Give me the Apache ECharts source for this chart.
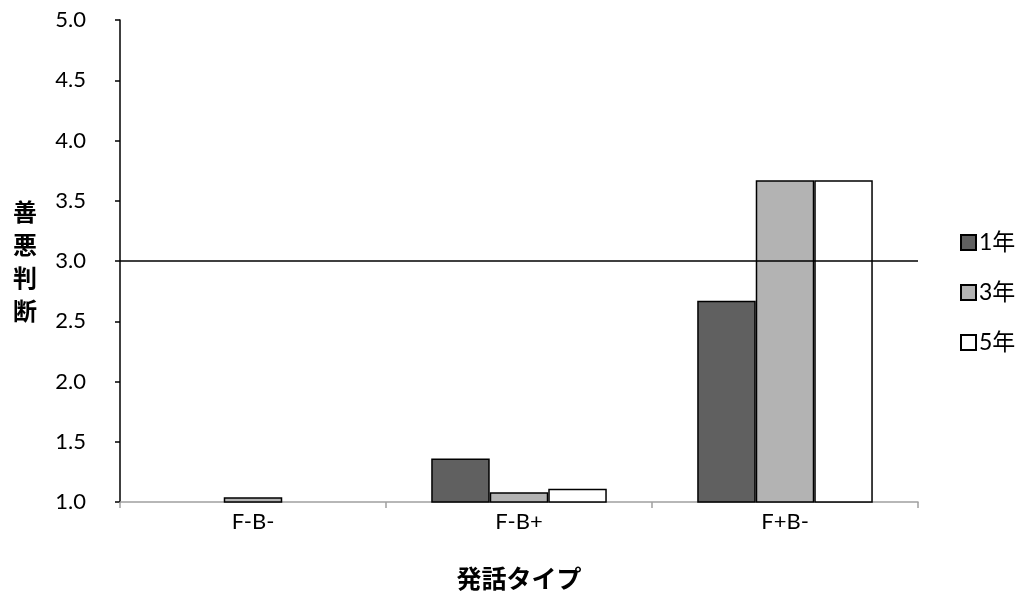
<!DOCTYPE html>
<html><head><meta charset="utf-8">
<script src="https://cdn.jsdelivr.net/npm/echarts@6/dist/echarts.min.js"></script>
<style>html,body{margin:0;padding:0;background:#fff}#c{width:1029px;height:604px}</style>
</head><body><div id="c"></div>
<script>
const categories = ['F-B-', 'F-B+', 'F+B-'];
const seriesNames = ['1年', '3年', '5年'];
const values1 = [1.0, 1.36, 2.67];
const values3 = [1.04, 1.08, 3.67];
const values5 = [1.0, 1.11, 3.67];
const refLine = 3.0;
const colors = ['#606060', '#b3b3b3', '#ffffff'];
const FONT = 'Lato, "Noto Sans CJK JP", sans-serif';

const chart = echarts.init(document.getElementById('c'), null, {renderer: 'canvas'});
const allValues = [values1, values3, values5];
const series = seriesNames.map((n, i) => ({
  name: n, type: 'bar', data: allValues[i],
  barGap: '0%', barCategoryGap: '34%',
  itemStyle: {color: colors[i], borderColor: '#000', borderWidth: 1.5},
  emphasis: {disabled: true},
  clip: true
}));
series[0].markLine = {
  silent: true, symbol: 'none', z: 10,
  label: {show: false},
  lineStyle: {color: '#000', width: 1.5, type: 'solid'},
  data: [{yAxis: refLine}]
};
chart.setOption({
  animation: false,
  textStyle: {fontFamily: FONT},
  grid: {left: 120, right: 111, top: 20, bottom: 102, containLabel: false},
  legend: {
    orient: 'vertical', left: 955, top: 226, itemGap: 27,
    itemWidth: 15, itemHeight: 15, icon: 'rect',
    textStyle: {fontSize: 23, color: '#000', fontFamily: FONT, padding: [0, 0, 0, -2]},
    data: seriesNames
  },
  xAxis: {
    type: 'category', data: categories,
    name: '発話タイプ', nameLocation: 'middle', nameGap: 64,
    nameTextStyle: {fontSize: 25, fontWeight: 'bold', color: '#000', fontFamily: '"Noto Sans CJK JP", sans-serif'},
    axisLine: {lineStyle: {color: '#a0a0a0', width: 1.5}},
    axisTick: {show: true, length: 6, lineStyle: {color: '#a0a0a0', width: 1.5}},
    axisLabel: {fontSize: 22, color: '#000', margin: 9}
  },
  yAxis: {
    type: 'value', min: 1.0, max: 5.0, interval: 0.5,
    name: '善\n悪\n判\n断', nameLocation: 'middle', nameGap: 83, nameRotate: 0,
    nameTextStyle: {fontSize: 24, fontWeight: 'bold', color: '#000', lineHeight: 33, fontFamily: '"Noto Sans CJK JP", sans-serif'},
    axisLine: {show: true, lineStyle: {color: '#000', width: 1.5}},
    axisTick: {show: true, length: 5, lineStyle: {color: '#000', width: 1.5}},
    axisLabel: {fontSize: 22, color: '#000', margin: 34, formatter: v => v.toFixed(1)},
    splitLine: {show: false}
  },
  series: series
});
</script></body></html>
